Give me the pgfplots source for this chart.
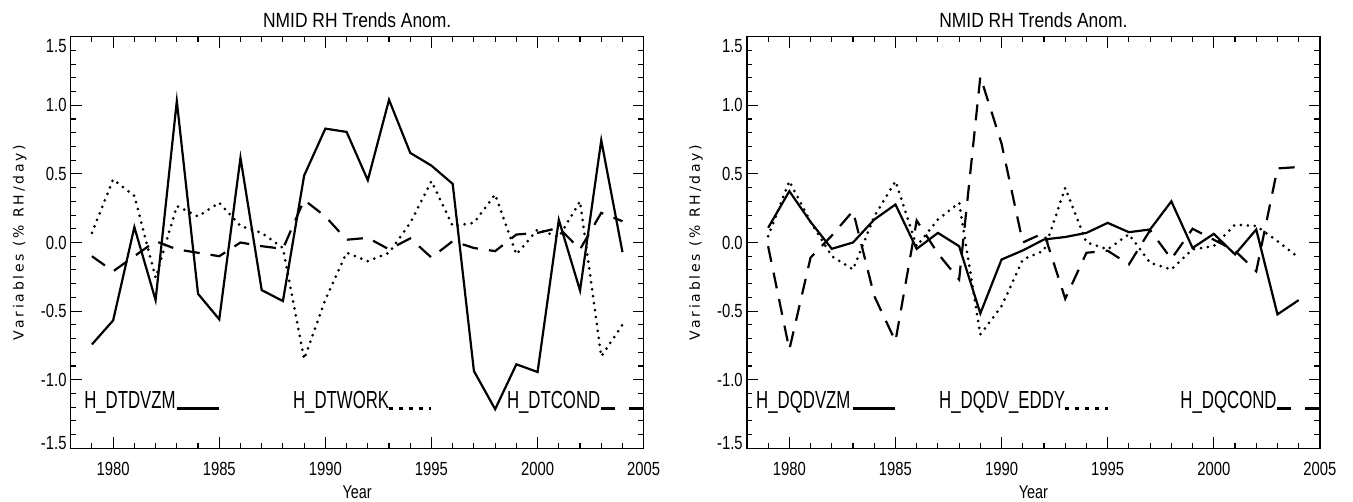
\documentclass[border=0pt]{standalone}
\usepackage{fontspec}
\setmainfont{Liberation Sans}
\newfontfamily\idlT[FakeStretch=0.85]{Liberation Sans}
\newfontfamily\idlK[FakeStretch=0.78]{Liberation Sans}
\newfontfamily\idlL[FakeStretch=0.68]{Liberation Sans}
\newfontfamily\ylab[LetterSpace=20]{DejaVu Sans}
\usepackage{pgfplots}
\usepackage{pgfplotstable}
\pgfplotsset{compat=1.18}

% left panel: temperature terms
\pgfplotstableread{
year  dvzm    work    cond
1979 -0.743   0.070  -0.100
1980 -0.568   0.460  -0.210
1981  0.112   0.340  -0.100
1982 -0.420  -0.257   0.010
1983  1.030   0.265  -0.050
1984 -0.374   0.190  -0.075
1985 -0.560   0.290  -0.100
1986  0.617   0.120   0.000
1987 -0.347   0.070  -0.027
1988 -0.427  -0.040  -0.046
1989  0.488  -0.850   0.310
1990  0.830  -0.415   0.190
1991  0.806  -0.075   0.020
1992  0.454  -0.136   0.034
1993  1.040  -0.075  -0.050
1994  0.653   0.143   0.030
1995  0.560   0.447  -0.110
1996  0.427   0.120   0.010
1997 -0.937   0.143  -0.040
1998 -1.215   0.350  -0.063
1999 -0.888  -0.087   0.058
2000 -0.944   0.095   0.070
2001  0.165   0.040   0.107
2002 -0.350   0.300  -0.050
2003  0.745  -0.830   0.216
2004 -0.070  -0.600   0.155
}\dtdata

% right panel: moisture terms
\pgfplotstableread{
year  dvzm    eddy    cond
1979  0.107   0.046  -0.027
1980  0.374   0.447  -0.780
1981  0.150   0.150  -0.110
1982 -0.046  -0.100   0.050
1983  0.000  -0.197   0.230
1984  0.167   0.190  -0.390
1985  0.277   0.447  -0.720
1986 -0.046  -0.027   0.160
1987  0.070   0.167  -0.080
1988 -0.027   0.290  -0.270
1989 -0.517  -0.670   1.210
1990 -0.124  -0.464   0.720
1991 -0.058  -0.124   0.000
1992  0.022  -0.060   0.070
1993  0.040   0.398  -0.410
1994  0.070   0.000  -0.075
1995  0.143  -0.050  -0.060
1996  0.075   0.060  -0.160
1997  0.095  -0.148   0.090
1998  0.300  -0.197  -0.120
1999 -0.040  -0.050   0.100
2000  0.063  -0.027   0.020
2001 -0.087   0.130  -0.060
2002  0.095   0.120  -0.210
2003 -0.524   0.010   0.540
2004 -0.420  -0.110   0.550
}\dqdata

\pgfplotsset{
  idl/.style={
    scale only axis, width=573pt, height=411.6pt,
    xmin=1978, xmax=2005, ymin=-1.5, ymax=1.5,
    xtick={1980,1985,...,2005},
    xticklabels={1980,1985,1990,1995,2000,2005},
    minor xtick={1978,...,2005},
    ytick={-1.5,-1,...,1.5},
    yticklabels={\raisebox{5.5pt}[\height][\depth]{-1.5},-1.0,-0.5,0.0,0.5,1.0,\raisebox{-9.5pt}[\height][\depth]{1.5}},
    minor ytick={-1.5,-1.4,...,1.5},
    tick align=inside, major tick length=11pt, minor tick length=5.5pt,
    axis line style={line width=1.2pt},
    tick style={line width=1.1pt, black},
    ticklabel style={font=\fontsize{19}{21}\idlK},
    xticklabel style={anchor=north, inner sep=0pt, yshift=-14pt},
    yticklabel style={anchor=east, inner sep=0pt, xshift=-4pt},
    every axis title shift=0pt,
    title style={at={(axis description cs:0.5,1.0229)}, anchor=base, inner sep=0pt,
      font=\fontsize{20.5}{24}\idlT},
    xlabel style={at={(axis description cs:0.5,-0.1215)}, anchor=base, inner sep=0pt,
      font=\fontsize{18.5}{20}\idlK},
    ylabel style={at={(axis description cs:-0.082,0.5)}, anchor=base, inner sep=0pt,
      font=\fontsize{14}{16}\ylab},
    title={NMID RH Trends Anom.},
    xlabel={Year},
    ylabel={Variables (\% RH/day)},
  },
  solidl/.style={black, line width=2.2pt, line join=miter},
  dotl/.style={black, line width=3pt, line cap=round, dash pattern=on 0pt off 7pt},
  dashl/.style={black, line width=2.2pt, dash pattern=on 16pt off 11pt},
}
\tikzset{legtext/.style={anchor=base west, inner sep=0pt, font=\fontsize{24.7}{28}\idlL}}

\begin{document}
\begin{tikzpicture}
\useasboundingbox (0,0) rectangle (1353pt,502pt);

\begin{axis}[idl, at={(70.7pt,53.7pt)}, anchor=south west]
\addplot[solidl] table[x=year,y=dvzm] {\dtdata};
\addplot[dotl] table[x=year,y=work] {\dtdata};
\addplot[dashl] table[x=year,y=cond] {\dtdata};
\node[legtext] at (axis cs:1978.63,-1.211) {H\_DTDVZM};
\addplot[black, line width=3.3pt] coordinates {(1983,-1.211) (1985,-1.211)};
\node[legtext] at (axis cs:1988.47,-1.211) {H\_DTWORK};
\addplot[black, line width=3.5pt, dash pattern=on 3.5pt off 6.5pt] coordinates {(1993,-1.211) (1995,-1.211)};
\node[legtext] at (axis cs:1998.55,-1.211) {H\_DTCOND};
\addplot[black, line width=3.3pt, dash pattern=on 14pt off 14pt] coordinates {(2003,-1.211) (2005,-1.211)};
\end{axis}

\begin{axis}[idl, at={(746.9pt,53.7pt)}, anchor=south west]
\addplot[solidl] table[x=year,y=dvzm] {\dqdata};
\addplot[dotl] table[x=year,y=eddy] {\dqdata};
\addplot[dashl] table[x=year,y=cond] {\dqdata};
\node[legtext] at (axis cs:1978.43,-1.211) {H\_DQDVZM};
\addplot[black, line width=3.3pt] coordinates {(1983,-1.211) (1985,-1.211)};
\node[legtext] at (axis cs:1987.05,-1.211) {H\_DQDV\_EDDY};
\addplot[black, line width=3.5pt, dash pattern=on 3.5pt off 6.5pt] coordinates {(1993,-1.211) (1995,-1.211)};
\node[legtext] at (axis cs:1998.42,-1.211) {H\_DQCOND};
\addplot[black, line width=3.3pt, dash pattern=on 14pt off 14pt] coordinates {(2003,-1.211) (2005,-1.211)};
\end{axis}
\end{tikzpicture}
\end{document}
